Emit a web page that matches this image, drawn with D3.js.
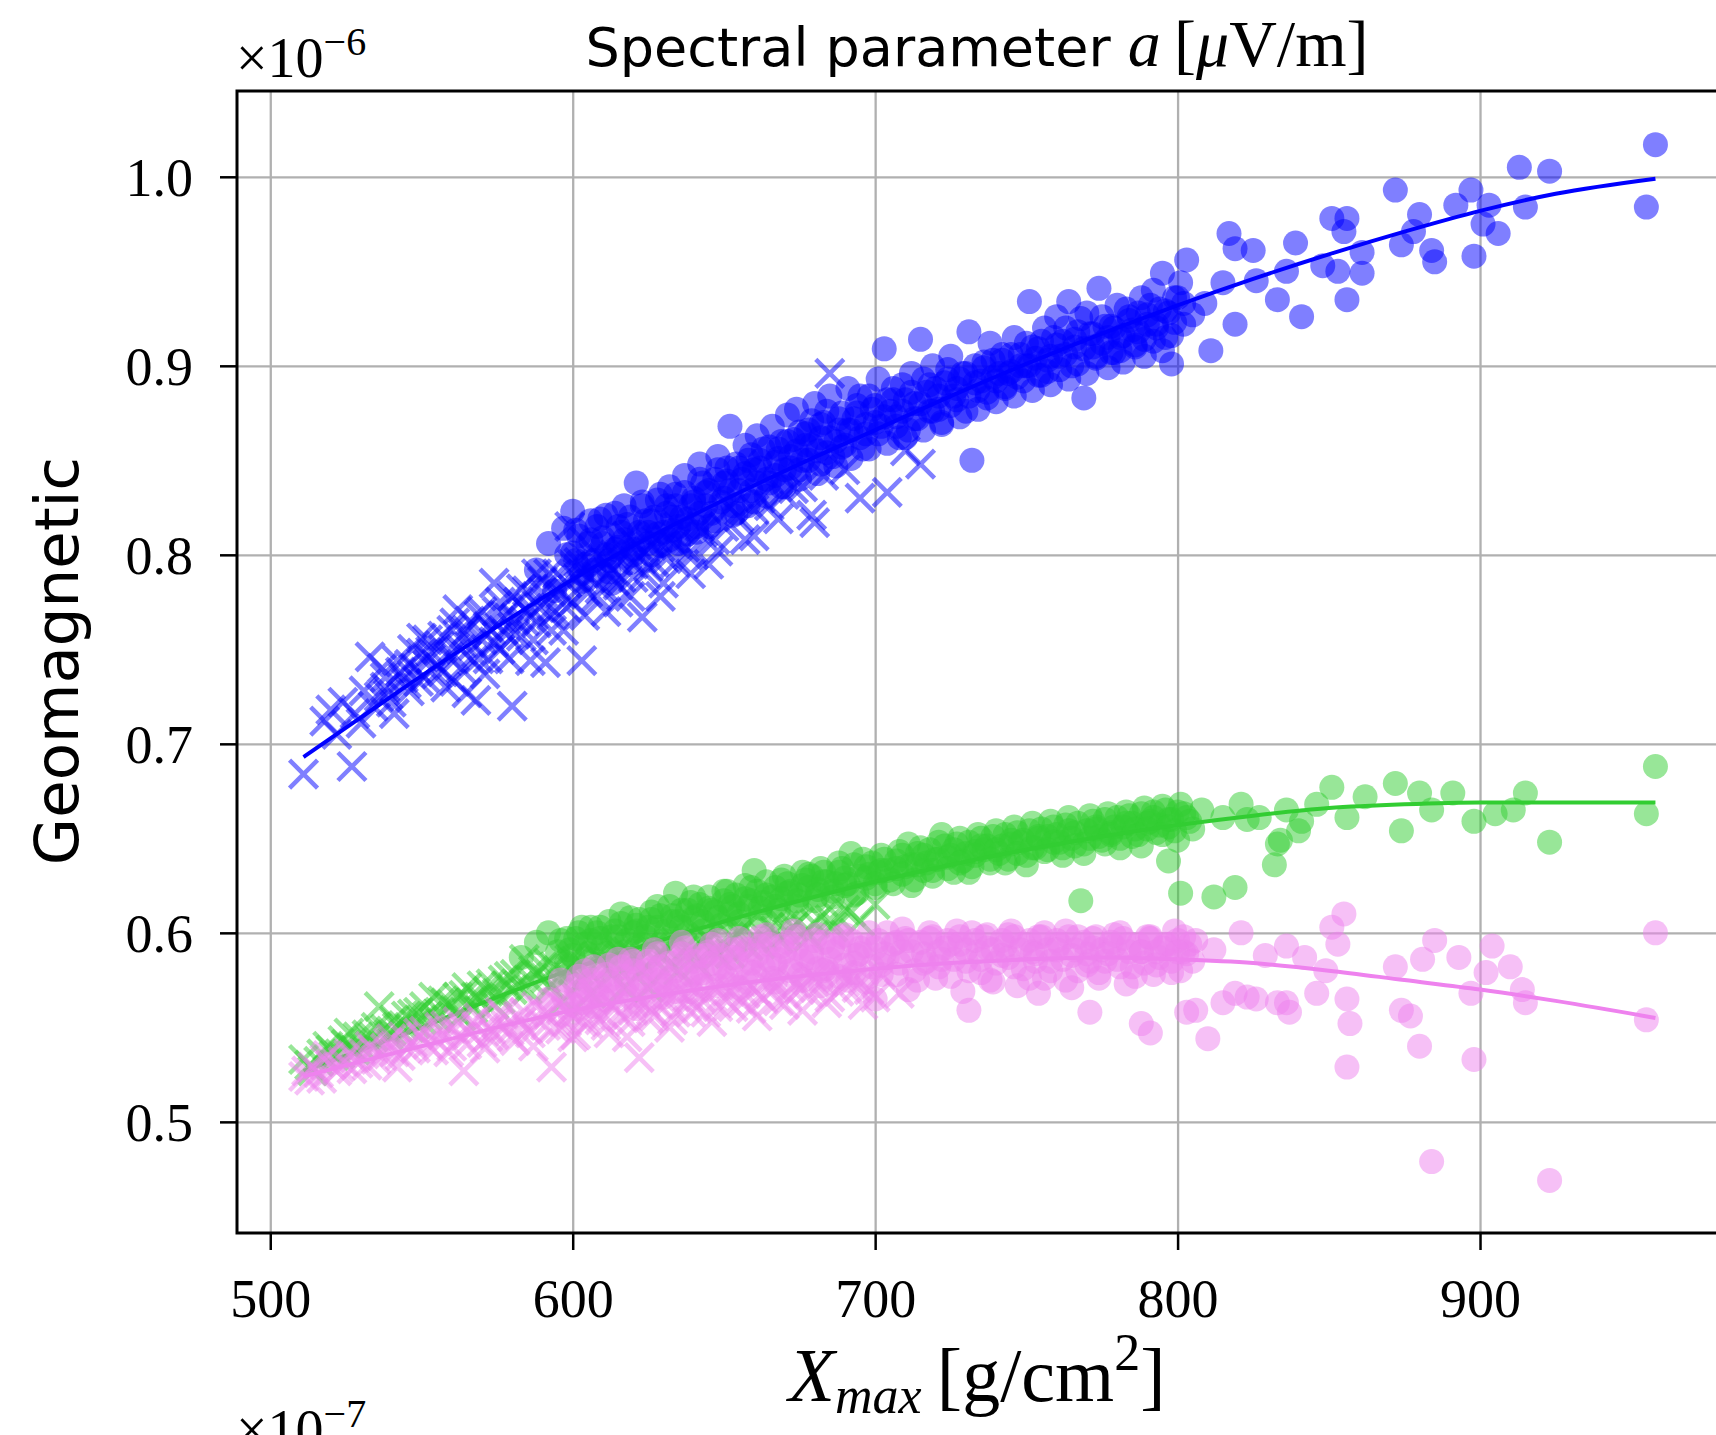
<!DOCTYPE html>
<html>
<head>
<meta charset="utf-8">
<script src="https://cdn.jsdelivr.net/npm/d3@7"></script>
<style>
  body { margin: 0; background: #fff; }
  svg { display: block; }
</style>
</head>
<body>
<div id="chart"></div>
<script>
// values, a is in units of 1e-6
const xmaxTicks = [500, 600, 700, 800, 900];
const aTicks = [0.5, 0.6, 0.7, 0.8, 0.9, 1.0];

// blue
const blueCrosses = [[511,0.684],[527,0.688],[518,0.712],[522,0.705],[530,0.711],[533,0.746],[536,0.725],[538,0.735],[541,0.716],[545,0.732],[548,0.740],[550,0.748],[552,0.755],[555,0.742],[558,0.730],[560,0.760],[562,0.771],[563,0.750],[565,0.727],[566,0.765],[568,0.723],[570,0.755],[572,0.745],[574,0.785],[575,0.770],[577,0.760],[580,0.720],[582,0.775],[584,0.765],[586,0.744],[588,0.790],[590,0.780],[591,0.743],[594,0.770],[597,0.760],[599,0.815],[600,0.795],[603,0.744],[605,0.780],[608,0.800],[612,0.790],[615,0.775],[618,0.810],[620,0.795],[623,0.767],[626,0.805],[630,0.785],[635,0.815],[640,0.800],[645,0.795],[648,0.802],[652,0.825],[657,0.808],[660,0.810],[662,0.830],[668,0.819],[673,0.835],[679,0.821],[680,0.817],[685,0.896],[690,0.845],[695,0.830],[704,0.833],[710,0.855],[715,0.848],
  [520,0.718],[524,0.722],[528,0.716],[531,0.728],[534,0.720],[537,0.740],[539,0.726],[543,0.738],[546,0.728],[547,0.750],[551,0.735],[553,0.745],[556,0.752],[557,0.738],[559,0.746],[561,0.733],[564,0.758],[567,0.744],[569,0.768],[571,0.737],[573,0.760],[576,0.750],[578,0.768],[579,0.745],[581,0.758],[583,0.782],[585,0.770],[587,0.755],[589,0.772],[592,0.790],[593,0.760],[595,0.782],[598,0.772],[601,0.788],[604,0.768],[606,0.795],[609,0.782],[611,0.770],[614,0.800],[616,0.788],[619,0.778],[621,0.805],[624,0.790],[627,0.796],[629,0.778],[632,0.808],[634,0.796],[637,0.804],[639,0.790],[643,0.812],[647,0.808],[650,0.815],[655,0.820],[660,0.824],[665,0.826],[670,0.832],[676,0.836],[683,0.842],
  [538,0.730],[540,0.722],[542,0.744],[544,0.735],[546,0.742],[549,0.733],[550,0.756],[553,0.749],[555,0.737],[557,0.757],[560,0.748],[561,0.764],[563,0.740],[565,0.760],[567,0.752],[569,0.745],[570,0.770],[572,0.762],[574,0.754],[576,0.775],[578,0.758],[580,0.778],[581,0.766],[583,0.757],[585,0.781],[586,0.772],[588,0.764],[590,0.786],[591,0.775],[593,0.768],[595,0.790],[596,0.779],[598,0.785],[600,0.775],[602,0.796],[603,0.784],[606,0.788],[608,0.778],[610,0.798],[613,0.792],[615,0.784],[617,0.802],[620,0.788],[622,0.800],[625,0.794],[628,0.808],[631,0.798],[634,0.806],[638,0.800],[642,0.815]];
const blueCircles = [[588,0.792],[592,0.806],[594,0.781],[597,0.814],[600,0.823],[601,0.797],[603,0.786],[606,0.808],[607,0.792],[609,0.819],[611,0.800],[613,0.785],[616,0.812],[617,0.826],[619,0.796],[621,0.838],[622,0.808],[624,0.818],[626,0.800],[628,0.829],[630,0.812],[632,0.836],[633,0.820],[635,0.806],[637,0.842],[639,0.826],[641,0.815],[642,0.848],[644,0.833],[646,0.822],[648,0.852],[650,0.838],[652,0.868],[653,0.826],[655,0.846],[657,0.858],[659,0.834],[661,0.863],[662,0.850],[664,0.840],[666,0.868],[668,0.856],[670,0.845],[671,0.874],[673,0.861],[674,0.877],[676,0.850],[678,0.866],[680,0.880],[681,0.855],[683,0.870],[685,0.884],[687,0.860],[689,0.875],[691,0.888],[692,0.866],[694,0.879],[696,0.856],[698,0.884],[700,0.870],[701,0.893],[703,0.909],[705,0.876],[706,0.888],[708,0.862],[710,0.882],[712,0.896],[714,0.872],[715,0.914],[717,0.886],[719,0.900],[721,0.877],[723,0.891],[725,0.905],[727,0.882],[729,0.896],[731,0.918],[732,0.850],[734,0.887],[736,0.902],[738,0.912],[740,0.892],[742,0.906],[744,0.896],[746,0.915],[748,0.900],[751,0.934],[752,0.910],[754,0.895],[756,0.920],[758,0.905],[760,0.926],[762,0.913],[764,0.934],[765,0.900],[767,0.918],[769,0.883],[770,0.928],[772,0.910],[774,0.941],[776,0.921],[778,0.907],[780,0.932],[782,0.916],[784,0.926],[786,0.911],[788,0.936],[790,0.922],[792,0.940],[794,0.930],[795,0.949],[796,0.915],[798,0.901],[799,0.936],[801,0.944],[803,0.956],[805,0.927],[809,0.933],[811,0.908],[815,0.944],[817,0.970],[819,0.922],[819,0.962],[825,0.961],[826,0.945],[833,0.935],[836,0.950],[839,0.965],[841,0.926],[848,0.953],[851,0.978],[853,0.950],[855,0.971],[856,0.935],[856,0.978],[861,0.949],[861,0.960],[872,0.993],[874,0.964],[878,0.971],[880,0.980],[884,0.961],[885,0.955],[892,0.985],[897,0.993],[898,0.958],[901,0.975],[903,0.985],[906,0.970],[913,1.005],[915,0.984],[923,1.003],[955,0.984],[958,1.017],
  [598,0.800],[602,0.810],[604,0.795],[608,0.815],[610,0.806],[612,0.797],[614,0.822],[615,0.804],[618,0.816],[620,0.803],[623,0.826],[625,0.812],[627,0.820],[629,0.805],[631,0.826],[633,0.813],[634,0.832],[636,0.820],[638,0.811],[640,0.830],[642,0.822],[643,0.838],[645,0.815],[647,0.840],[649,0.828],[651,0.846],[652,0.834],[654,0.822],[656,0.840],[658,0.850],[660,0.828],[660,0.845],[663,0.856],[665,0.838],[667,0.849],[669,0.860],[670,0.836],[672,0.852],[675,0.865],[675,0.845],[677,0.858],[679,0.871],[682,0.848],[682,0.862],[684,0.876],[686,0.852],[688,0.866],[690,0.858],[693,0.872],[695,0.884],[697,0.864],[699,0.877],[702,0.868],[704,0.882],[707,0.873],[709,0.890],[711,0.866],[713,0.880],[716,0.893],[718,0.876],[720,0.888],[722,0.870],[724,0.898],[726,0.884],[728,0.893],[730,0.876],[733,0.900],[735,0.892],[737,0.883],[739,0.903],[741,0.896],[743,0.888],[745,0.906],[747,0.894],[750,0.912],[750,0.900],[753,0.904],[755,0.913],[757,0.897],[759,0.915],[761,0.905],[763,0.920],[766,0.910],[768,0.925],[771,0.917],[773,0.905],[775,0.926],[777,0.915],[779,0.920],[781,0.908],[783,0.930],[785,0.919],[787,0.928],[789,0.914],[791,0.932],[793,0.922],[797,0.928],[800,0.936],[802,0.922],
  [600,0.801],[601,0.813],[603,0.790],[605,0.806],[606,0.818],[607,0.797],[610,0.809],[611,0.821],[612,0.791],[614,0.803],[615,0.815],[617,0.808],[619,0.820],[620,0.800],[622,0.812],[623,0.828],[625,0.806],[626,0.818],[628,0.811],[629,0.832],[631,0.822],[632,0.808],[634,0.826],[635,0.815],[637,0.833],[638,0.819],[640,0.828],[641,0.812],[642,0.840],[644,0.826],[645,0.834],[647,0.818],[648,0.845],[650,0.830],[651,0.839],[653,0.821],[654,0.848],[655,0.834],[657,0.843],[658,0.826],[659,0.853],[661,0.838],[662,0.846],[664,0.831],[665,0.857],[667,0.842],[668,0.851],[669,0.836],[671,0.860],[672,0.846],[674,0.855],[675,0.840],[677,0.864],[678,0.850],[679,0.858],[681,0.843],[682,0.869],[684,0.854],[685,0.862],[687,0.847],[688,0.872],[689,0.857],[691,0.866],[692,0.851],[694,0.875],[695,0.862],[697,0.869],[698,0.856],[700,0.879],[701,0.864],[703,0.873],[704,0.859],[706,0.882],[707,0.868],[709,0.876],[710,0.862],[712,0.886],[713,0.872],[715,0.880],[716,0.866],[718,0.890],[719,0.876],[721,0.884],[722,0.869],[724,0.893],[725,0.879],[727,0.888],[728,0.873],[730,0.896],[731,0.884],[733,0.891],[734,0.877],[736,0.899],[737,0.886],[739,0.894],[740,0.881],[742,0.903],[743,0.889],[745,0.897],[746,0.884],[748,0.906],[749,0.892],[751,0.900],[752,0.887],[754,0.909],[755,0.895],[757,0.903],[758,0.890],[760,0.911],[761,0.898],[763,0.906],[764,0.893],[766,0.914],[767,0.901],[769,0.909],[770,0.896],[772,0.917],[773,0.904],[775,0.912],[777,0.899],[778,0.921],[779,0.907],[781,0.915],[782,0.902],[784,0.924],[786,0.910],[787,0.918],[789,0.905],[790,0.927],[792,0.913],[793,0.920],[795,0.908],[796,0.929],[798,0.916],[799,0.923],[802,0.933]];
const blueFitX = [511,530,550,575,600,625,650,675,700,725,750,775,800,825,850,875,900,925,958];
const blueFitY = [0.693,0.714,0.736,0.762,0.787,0.809,0.829,0.848,0.866,0.884,0.901,0.917,0.932,0.946,0.959,0.971,0.982,0.991,0.999];

// green
const greenCrosses = [[511,0.533],[514,0.527],[519,0.540],[523,0.536],[526,0.547],[530,0.540],[534,0.545],[536,0.561],[540,0.548],[542,0.550],[545,0.556],[548,0.552],[550,0.554],[554,0.566],[556,0.558],[560,0.562],[563,0.556],[565,0.571],[568,0.566],[572,0.569],[574,0.562],[577,0.575],[580,0.570],[584,0.586],[586,0.575],[590,0.582],[593,0.572],[597,0.564],[600,0.580],[603,0.575],[606,0.568],[610,0.584],[613,0.578],[617,0.571],[620,0.588],[623,0.580],[625,0.571],[629,0.590],[632,0.583],[635,0.580],[638,0.593],[641,0.584],[645,0.596],[648,0.588],[652,0.589],[655,0.600],[658,0.593],[662,0.594],[665,0.603],[668,0.597],[671,0.600],[675,0.606],[678,0.598],[682,0.608],[686,0.603],[690,0.612],[695,0.606],[700,0.615],
  [516,0.532],[521,0.535],[525,0.541],[528,0.538],[532,0.546],[538,0.549],[544,0.551],[547,0.557],[552,0.556],[558,0.563],[562,0.566],[566,0.563],[570,0.572],[575,0.568],[579,0.577],[582,0.572],[588,0.578],[592,0.584],[595,0.576],[599,0.586],[602,0.580],[608,0.588],[612,0.582],[615,0.590],[619,0.584],[627,0.586],[631,0.592],[637,0.588],[643,0.594],[647,0.591],[653,0.597],[660,0.598],[667,0.601],[673,0.603],[680,0.605],[688,0.608],
  [513,0.530],[517,0.536],[520,0.538],[524,0.543],[527,0.539],[529,0.545],[533,0.542],[535,0.550],[539,0.546],[541,0.554],[546,0.550],[549,0.558],[551,0.561],[555,0.555],[557,0.564],[561,0.559],[564,0.567],[567,0.560],[569,0.566],[573,0.573],[576,0.565],[578,0.572],[581,0.578],[585,0.570],[587,0.580],[591,0.576],[594,0.582],[598,0.577],[601,0.585],[605,0.580],[609,0.586],[614,0.583],[618,0.590],[622,0.586],[626,0.592],[630,0.588],[634,0.595],[639,0.590],[644,0.598],[650,0.594],[656,0.601],[663,0.598],[670,0.604],[677,0.601],[685,0.607],[692,0.611]];
const greenCircles = [[583,0.587],[588,0.595],[592,0.600],[595,0.590],[598,0.584],[601,0.597],[603,0.603],[605,0.589],[608,0.600],[610,0.593],[612,0.606],[615,0.598],[617,0.590],[619,0.608],[621,0.601],[623,0.594],[626,0.611],[628,0.603],[630,0.596],[632,0.614],[634,0.621],[635,0.606],[637,0.599],[639,0.616],[641,0.609],[643,0.601],[645,0.619],[647,0.611],[649,0.604],[651,0.622],[653,0.614],[655,0.606],[657,0.625],[659,0.617],[660,0.633],[662,0.609],[664,0.627],[666,0.619],[668,0.612],[670,0.630],[672,0.622],[674,0.614],[676,0.632],[678,0.624],[680,0.617],[682,0.634],[684,0.627],[686,0.619],[688,0.637],[690,0.629],[692,0.642],[694,0.621],[696,0.639],[698,0.631],[700,0.624],[702,0.641],[704,0.633],[706,0.626],[708,0.643],[710,0.635],[711,0.647],[713,0.628],[715,0.645],[717,0.637],[719,0.630],[721,0.648],[722,0.652],[724,0.640],[726,0.632],[728,0.650],[730,0.642],[732,0.635],[734,0.652],[736,0.644],[738,0.637],[740,0.654],[742,0.646],[744,0.639],[746,0.656],[748,0.648],[750,0.641],[752,0.658],[754,0.650],[756,0.643],[758,0.659],[760,0.652],[762,0.645],[764,0.661],[766,0.653],[768,0.617],[769,0.647],[771,0.662],[773,0.655],[775,0.649],[777,0.663],[779,0.656],[781,0.650],[783,0.664],[785,0.658],[787,0.652],[789,0.666],[791,0.659],[793,0.653],[795,0.667],[797,0.638],[797,0.660],[799,0.654],[801,0.621],[801,0.668],[803,0.661],[805,0.655],[808,0.665],[812,0.619],[815,0.661],[819,0.624],[821,0.668],[823,0.660],[827,0.661],[832,0.636],[833,0.647],[834,0.649],[836,0.665],[840,0.654],[841,0.659],[846,0.668],[851,0.677],[856,0.661],[862,0.672],[872,0.679],[874,0.654],[880,0.674],[884,0.665],[891,0.674],[898,0.659],[905,0.663],[911,0.665],[915,0.674],[923,0.648],[955,0.663],[958,0.688],
  [596,0.596],[599,0.591],[602,0.600],[606,0.596],[609,0.603],[613,0.598],[616,0.605],[620,0.600],[622,0.607],[625,0.603],[629,0.609],[633,0.606],[636,0.612],[640,0.608],[642,0.615],[646,0.612],[650,0.617],[652,0.610],[654,0.620],[658,0.614],[661,0.622],[663,0.616],[667,0.624],[669,0.618],[671,0.626],[675,0.620],[677,0.628],[679,0.630],[681,0.623],[683,0.632],[687,0.626],[689,0.634],[691,0.626],[693,0.636],[697,0.629],[699,0.637],[701,0.632],[703,0.639],[707,0.634],[709,0.641],[712,0.636],[714,0.642],[716,0.633],[718,0.644],[720,0.639],[723,0.646],[725,0.641],[727,0.647],[729,0.638],[731,0.648],[733,0.643],[735,0.650],[737,0.646],[739,0.651],[741,0.642],[743,0.652],[745,0.647],[747,0.653],[749,0.649],[751,0.654],[753,0.645],[755,0.655],[757,0.651],[759,0.656],[761,0.648],[763,0.657],[765,0.650],[767,0.658],[770,0.654],[772,0.659],[774,0.651],[776,0.660],[778,0.653],[780,0.661],[782,0.656],[784,0.662],[786,0.655],[788,0.663],[790,0.658],[792,0.664],[794,0.657],[796,0.665],[798,0.660],[800,0.664],[804,0.659],
  [598,0.597],[600,0.588],[604,0.594],[606,0.603],[609,0.597],[611,0.589],[614,0.601],[616,0.610],[618,0.596],[621,0.604],[624,0.598],[626,0.607],[628,0.614],[631,0.601],[633,0.609],[636,0.603],[638,0.612],[640,0.619],[643,0.606],[645,0.613],[648,0.608],[650,0.622],[652,0.615],[655,0.610],[657,0.618],[659,0.624],[662,0.613],[664,0.620],[667,0.614],[669,0.628],[671,0.621],[674,0.617],[676,0.625],[678,0.631],[681,0.620],[683,0.627],[686,0.622],[688,0.632],[690,0.625],[693,0.620],[695,0.630],[697,0.635],[700,0.626],[702,0.633],[705,0.628],[707,0.638],[709,0.631],[712,0.625],[714,0.636],[716,0.641],[719,0.633],[721,0.639],[724,0.634],[726,0.644],[728,0.637],[731,0.632],[733,0.641],[735,0.646],[738,0.639],[740,0.644],[743,0.637],[745,0.649],[747,0.642],[750,0.636],[752,0.645],[754,0.651],[757,0.644],[759,0.648],[762,0.641],[764,0.654],[766,0.646],[769,0.642],[771,0.650],[773,0.656],[776,0.647],[778,0.652],[781,0.645],[783,0.658],[785,0.651],[788,0.646],[790,0.655],[792,0.661],[795,0.652],[797,0.656],[800,0.649],[802,0.663]];
const greenFitX = [511,530,550,575,600,625,650,675,700,725,750,775,800,825,850,875,900,925,958];
const greenFitY = [0.527,0.538,0.550,0.566,0.581,0.594,0.606,0.617,0.627,0.636,0.644,0.651,0.657,0.662,0.666,0.668,0.669,0.669,0.669];

// violet
const pinkCrosses = [[511,0.524],[514,0.529],[518,0.533],[522,0.527],[526,0.536],[529,0.531],[533,0.540],[537,0.535],[540,0.544],[542,0.529],[545,0.539],[549,0.547],[552,0.541],[556,0.550],[559,0.537],[563,0.545],[564,0.527],[567,0.553],[570,0.542],[573,0.549],[577,0.557],[580,0.545],[583,0.553],[587,0.540],[590,0.559],[593,0.529],[594,0.550],[597,0.561],[601,0.546],[604,0.556],[607,0.564],[611,0.551],[614,0.560],[618,0.545],[621,0.566],[622,0.534],[625,0.555],[628,0.563],[632,0.550],[635,0.569],[639,0.558],[642,0.566],[646,0.553],[649,0.571],[653,0.561],[657,0.568],[661,0.556],[664,0.574],[668,0.564],[672,0.571],[676,0.559],[680,0.576],[685,0.566],[690,0.574],[696,0.562],[702,0.578],[708,0.568],
  [513,0.522],[516,0.526],[520,0.530],[524,0.532],[527,0.528],[531,0.536],[535,0.533],[538,0.539],[543,0.535],[547,0.542],[550,0.545],[554,0.538],[557,0.546],[561,0.549],[565,0.541],[568,0.550],[572,0.545],[575,0.552],[579,0.548],[582,0.556],[585,0.549],[589,0.553],[592,0.557],[596,0.549],[599,0.558],[603,0.553],[606,0.560],[609,0.554],[613,0.562],[616,0.556],[620,0.559],[624,0.563],[627,0.556],[631,0.565],[634,0.558],[638,0.566],[641,0.560],[645,0.567],[648,0.561],[652,0.569],[656,0.563],[660,0.570],[663,0.565],[667,0.571],[671,0.566],[674,0.573],[678,0.568],[683,0.574],[688,0.569],[693,0.575],[698,0.570],
  [512,0.527],[517,0.523],[519,0.535],[523,0.529],[528,0.534],[532,0.530],[534,0.538],[539,0.542],[541,0.537],[544,0.545],[548,0.539],[551,0.548],[555,0.543],[558,0.551],[560,0.540],[562,0.553],[566,0.547],[569,0.555],[571,0.539],[574,0.546],[576,0.558],[578,0.551],[581,0.543],[584,0.558],[586,0.547],[588,0.561],[591,0.551],[595,0.563],[598,0.553],[600,0.545],[602,0.562],[605,0.552],[608,0.566],[610,0.557],[612,0.547],[615,0.565],[619,0.553],[623,0.567],[626,0.559],[630,0.570],[633,0.554],[637,0.562],[640,0.571],[644,0.558],[647,0.572],[651,0.564],[655,0.574],[659,0.560],[662,0.567],[666,0.576],[670,0.562],[675,0.570],[679,0.577],[684,0.563],[689,0.578],[694,0.571],[700,0.566]];
const pinkCircles = [[592,0.565],[596,0.575],[599,0.557],[602,0.569],[604,0.580],[607,0.561],[609,0.573],[612,0.583],[614,0.566],[617,0.577],[619,0.586],[621,0.560],[623,0.571],[626,0.581],[628,0.589],[630,0.566],[632,0.576],[635,0.585],[637,0.592],[639,0.569],[641,0.579],[644,0.588],[646,0.594],[648,0.572],[650,0.582],[653,0.591],[655,0.597],[657,0.574],[659,0.584],[662,0.593],[664,0.599],[666,0.576],[668,0.586],[671,0.595],[673,0.601],[675,0.578],[677,0.588],[680,0.596],[682,0.572],[684,0.581],[686,0.590],[689,0.598],[691,0.575],[693,0.584],[695,0.592],[698,0.600],[700,0.565],[702,0.578],[704,0.587],[707,0.595],[709,0.602],[711,0.570],[713,0.580],[716,0.589],[718,0.597],[720,0.576],[722,0.586],[725,0.594],[727,0.601],[729,0.569],[731,0.559],[731,0.580],[734,0.590],[736,0.598],[738,0.575],[740,0.584],[743,0.593],[745,0.601],[747,0.572],[749,0.581],[752,0.590],[754,0.598],[754,0.568],[756,0.576],[758,0.585],[761,0.594],[763,0.601],[765,0.571],[767,0.580],[770,0.589],[771,0.558],[772,0.597],[774,0.576],[776,0.585],[779,0.593],[781,0.600],[783,0.573],[785,0.582],[788,0.590],[788,0.552],[790,0.598],[791,0.547],[792,0.578],[794,0.587],[797,0.594],[799,0.601],[801,0.580],[803,0.589],[803,0.558],[806,0.596],[806,0.559],[810,0.544],[812,0.591],[815,0.563],[819,0.568],[821,0.600],[823,0.566],[826,0.565],[829,0.588],[833,0.563],[836,0.593],[836,0.563],[837,0.558],[842,0.587],[846,0.568],[849,0.580],[851,0.603],[853,0.594],[855,0.610],[856,0.529],[856,0.565],[857,0.552],[872,0.582],[874,0.559],[877,0.556],[880,0.540],[881,0.586],[884,0.479],[885,0.596],[893,0.587],[897,0.568],[898,0.533],[902,0.579],[904,0.593],[910,0.582],[914,0.570],[915,0.563],[923,0.469],[955,0.554],[958,0.600],
  [597,0.566],[601,0.572],[603,0.563],[606,0.575],[608,0.568],[611,0.578],[613,0.570],[616,0.582],[618,0.573],[620,0.580],[622,0.576],[625,0.585],[627,0.575],[629,0.582],[631,0.572],[634,0.580],[636,0.589],[638,0.576],[640,0.585],[643,0.579],[645,0.590],[647,0.581],[649,0.588],[652,0.578],[654,0.586],[656,0.592],[658,0.580],[661,0.588],[663,0.582],[665,0.594],[667,0.583],[670,0.590],[672,0.580],[674,0.592],[676,0.585],[679,0.590],[681,0.581],[683,0.595],[685,0.586],[688,0.592],[690,0.583],[692,0.596],[694,0.588],[697,0.593],[699,0.582],[701,0.596],[703,0.589],[706,0.594],[708,0.584],[710,0.597],[712,0.590],[715,0.595],[717,0.585],[719,0.598],[721,0.590],[724,0.596],[726,0.586],[728,0.598],[730,0.591],[733,0.596],[735,0.586],[737,0.599],[739,0.591],[742,0.596],[744,0.587],[746,0.598],[748,0.591],[751,0.596],[753,0.585],[755,0.598],[757,0.591],[760,0.596],[762,0.586],[764,0.598],[766,0.591],[769,0.595],[771,0.585],[773,0.598],[775,0.591],[778,0.595],[780,0.586],[782,0.597],[784,0.590],[787,0.594],[789,0.584],[791,0.597],[793,0.590],[796,0.594],[798,0.585],[800,0.596],[802,0.590],[804,0.594],
  [600,0.562],[602,0.577],[605,0.570],[607,0.582],[610,0.565],[612,0.575],[615,0.586],[617,0.570],[620,0.585],[622,0.567],[624,0.580],[627,0.591],[629,0.574],[632,0.584],[634,0.569],[636,0.595],[639,0.578],[641,0.588],[643,0.572],[646,0.584],[648,0.596],[651,0.576],[653,0.587],[655,0.571],[658,0.591],[660,0.579],[662,0.598],[665,0.586],[667,0.574],[669,0.593],[672,0.584],[674,0.598],[676,0.575],[679,0.587],[681,0.599],[683,0.580],[686,0.593],[688,0.577],[690,0.599],[693,0.579],[695,0.589],[697,0.574],[700,0.592],[702,0.583],[704,0.600],[707,0.578],[709,0.590],[711,0.596],[714,0.575],[716,0.584],[718,0.600],[721,0.582],[723,0.592],[725,0.577],[728,0.594],[730,0.585],[732,0.600],[735,0.579],[737,0.592],[739,0.574],[742,0.588],[744,0.599],[746,0.582],[749,0.594],[751,0.576],[753,0.589],[756,0.600],[758,0.580],[760,0.591],[763,0.575],[765,0.588],[767,0.598],[770,0.583],[772,0.592],[774,0.579],[777,0.589],[779,0.599],[781,0.582],[784,0.594],[786,0.577],[788,0.590],[791,0.598],[793,0.583],[795,0.592],[798,0.579],[800,0.590],[802,0.598],[805,0.585]];
const pinkFitX = [511,530,550,575,600,625,650,675,700,725,750,775,800,825,850,875,900,925,958];
const pinkFitY = [0.524,0.532,0.540,0.550,0.559,0.566,0.572,0.577,0.581,0.584,0.586,0.587,0.586,0.584,0.580,0.575,0.570,0.564,0.555];

let dim = { 'width': 1716, 'height': 1435 };
let plot = { left: 237, top: 91, right: 1725, bottom: 1233 };

let svg = d3.select('#chart').append('svg')
    .attr('width', dim.width)
    .attr('height', dim.height);

let scaleX = d3.scaleLinear().domain([489, 981]).range([plot.left, plot.right]);
let scaleY = d3.scaleLinear().domain([0.4412, 1.0454]).range([plot.bottom, plot.top]);

svg.append('clipPath').attr('id', 'clip')
  .append('rect')
    .attr('x', plot.left).attr('y', plot.top)
    .attr('width', plot.right - plot.left).attr('height', plot.bottom - plot.top);

// grid
let gridX = svg.append('g')
    .attr('transform', `translate(0,${plot.bottom})`)
    .call(d3.axisBottom(scaleX).tickValues(xmaxTicks).tickSize(-(plot.bottom - plot.top)).tickFormat(''));
let gridY = svg.append('g')
    .attr('transform', `translate(${plot.left},0)`)
    .call(d3.axisLeft(scaleY).tickValues(aTicks).tickSize(-(plot.right - plot.left)).tickFormat(''));
[gridX, gridY].forEach(g => {
    g.select('.domain').remove();
    g.selectAll('line').attr('stroke', '#b0b0b0').attr('stroke-width', 2.3);
});

let marks = svg.append('g').attr('clip-path', 'url(#clip)');

let line = d3.line()
    .x(d => scaleX(d[0]))
    .y(d => scaleY(d[1]))
    .curve(d3.curveMonotoneX);

function drawSeries(crosses, circles, fitX, fitY, color) {
    let g = marks.append('g');
    let s = 14;
    g.selectAll('path.cross')
      .data(crosses)
      .enter().append('path')
        .attr('class', 'cross')
        .attr('transform', d => `translate(${scaleX(d[0])},${scaleY(d[1])})`)
        .attr('d', `M${-s},${-s}L${s},${s}M${-s},${s}L${s},${-s}`)
        .attr('stroke', color)
        .attr('stroke-width', 4.5)
        .attr('fill', 'none')
        .attr('opacity', 0.5);
    g.selectAll('circle')
      .data(circles)
      .enter().append('circle')
        .attr('cx', d => scaleX(d[0]))
        .attr('cy', d => scaleY(d[1]))
        .attr('r', 12.5)
        .attr('fill', color)
        .attr('opacity', 0.5);
    g.append('path')
        .datum(fitX.map((x, i) => [x, fitY[i]]))
        .attr('d', line)
        .attr('fill', 'none')
        .attr('stroke', color)
        .attr('stroke-width', 4);
}

drawSeries(blueCrosses, blueCircles, blueFitX, blueFitY, '#0000ff');
drawSeries(greenCrosses, greenCircles, greenFitX, greenFitY, '#32cd32');
drawSeries(pinkCrosses, pinkCircles, pinkFitX, pinkFitY, '#ee82ee');

// axes
let axisX = svg.append('g')
    .attr('transform', `translate(0,${plot.bottom})`)
    .call(d3.axisBottom(scaleX).tickValues(xmaxTicks).tickSize(17).tickPadding(29));
let axisY = svg.append('g')
    .attr('transform', `translate(${plot.left},0)`)
    .call(d3.axisLeft(scaleY).tickValues(aTicks).tickSize(17).tickPadding(27).tickFormat(d3.format('.1f')));
[axisX, axisY].forEach(g => {
    g.select('.domain').remove();
    g.selectAll('.tick line').attr('stroke', '#000').attr('stroke-width', 2.5);
    g.selectAll('text')
        .attr('fill', '#000')
        .style('font-family', '"Liberation Serif", serif')
        .style('font-size', '54px');
});
axisX.selectAll('text').attr('dy', '0.71em');
axisY.selectAll('text').attr('dy', '0.34em');

// spines (left, top, bottom; right side runs past the picture)
svg.append('path')
    .attr('d', `M${plot.right},${plot.top}H${plot.left}V${plot.bottom}H${plot.right}`)
    .attr('fill', 'none')
    .attr('stroke', '#000')
    .attr('stroke-width', 3);

// title
let title = svg.append('text')
    .attr('x', 977).attr('y', 66)
    .attr('text-anchor', 'middle')
    .attr('fill', '#000');
title.append('tspan').style('font-family', '"DejaVu Sans", sans-serif').style('font-size', '54px').text('Spectral parameter ');
title.append('tspan').style('font-family', '"Liberation Serif", serif').style('font-style', 'italic').style('font-size', '66px').text('a');
title.append('tspan').style('font-family', '"Liberation Serif", serif').style('font-size', '66px').text('\u2009[');
title.append('tspan').style('font-family', '"Liberation Serif", serif').style('font-style', 'italic').style('font-size', '66px').text('μ');
title.append('tspan').style('font-family', '"Liberation Serif", serif').style('font-size', '66px').text('V/m]');

// offset texts
function offsetText(y, exp) {
    let t = svg.append('text')
        .attr('x', 236).attr('y', y)
        .attr('fill', '#000')
        .style('font-family', '"Liberation Serif", serif')
        .style('font-size', '56px');
    t.append('tspan').text('×10');
    t.append('tspan').attr('dy', -22).style('font-size', '40px').text('−' + exp);
}
offsetText(77, 6);
offsetText(1449, 7);

// y label
svg.append('text')
    .attr('transform', 'translate(78,661) rotate(-90)')
    .attr('text-anchor', 'middle')
    .attr('fill', '#000')
    .style('font-family', '"DejaVu Sans", sans-serif')
    .style('font-size', '61px')
    .text('Geomagnetic');

// x label
let xl = svg.append('text')
    .attr('x', 977).attr('y', 1401)
    .attr('text-anchor', 'middle')
    .attr('fill', '#000')
    .style('font-family', '"Liberation Serif", serif')
    .style('font-size', '76px');
xl.append('tspan').style('font-style', 'italic').text('X');
xl.append('tspan').attr('dy', 12).style('font-style', 'italic').style('font-size', '52px').text('max');
xl.append('tspan').attr('dy', -12).text('\u2009[g/cm');
xl.append('tspan').attr('dy', -31).style('font-size', '52px').text('2');
xl.append('tspan').attr('dy', 31).text(']');
</script>
</body>
</html>
